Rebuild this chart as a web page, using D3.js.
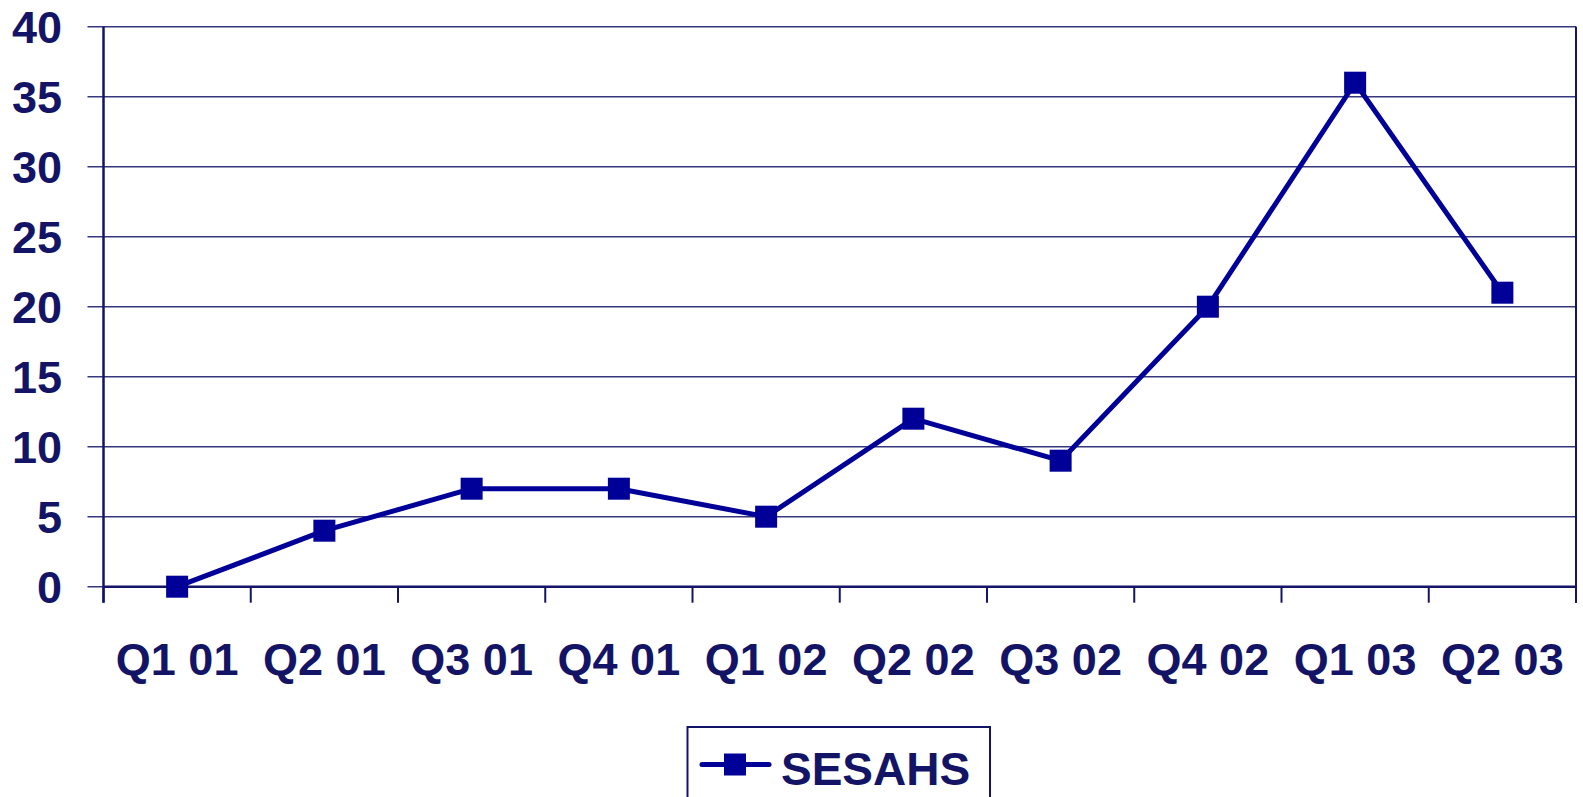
<!DOCTYPE html>
<html>
<head>
<meta charset="utf-8">
<script src="https://cdn.jsdelivr.net/npm/d3@7"></script>
<style>
  body { margin: 0; background: #fff; }
  svg { display: block; }
</style>
</head>
<body>
<div class="chart"></div>
<script>
var width = 1583;
var height = 797;

var quarters = ["Q1 01", "Q2 01", "Q3 01", "Q4 01", "Q1 02", "Q2 02", "Q3 02", "Q4 02", "Q1 03", "Q2 03"];
var sesahs = [0, 4, 7, 7, 5, 12, 9, 20, 36, 21];
var yTicks = [0, 5, 10, 15, 20, 25, 30, 35, 40];
var seriesName = "SESAHS";

var navy = "#141466";
var lineBlue = "#000099";
var font = "Liberation Sans, Arial, sans-serif";

var svg = d3.select("div.chart")
    .append("svg")
    .attr("width", width)
    .attr("height", height)

// plot area edges (note: "top" is a reserved window property)
var pLeft = 103.5, pRight = 1576, pTop = 26.7, pBottom = 586.7

var x = d3.scaleBand().domain(quarters).range([pLeft, pRight])
var y = d3.scaleLinear().domain([0, 40]).range([pBottom, pTop])

// gridlines (with the small outer tick to the left)
svg.append("g")
    .selectAll("line")
    .data(yTicks)
    .join("line")
    .attr("x1", pLeft - 16)
    .attr("x2", pRight)
    .attr("y1", function (d) { return y(d); })
    .attr("y2", function (d) { return y(d); })
    .attr("stroke", navy)
    .attr("stroke-opacity", 0.85)
    .attr("stroke-width", 1.5)

// y labels
svg.append("g")
    .selectAll("text")
    .data(yTicks)
    .join("text")
    .attr("x", 62)
    .attr("y", function (d) { return y(d); })
    .attr("dy", "0.36em")
    .attr("text-anchor", "end")
    .attr("font-family", font)
    .attr("font-weight", "bold")
    .attr("font-size", 45)
    .style("fill", navy)
    .text(function (d) { return d; })

// x ticks at band edges
var edges = quarters.map(function (q) { return x(q); }).concat([pRight])
svg.append("g")
    .selectAll("line")
    .data(edges)
    .join("line")
    .attr("x1", function (d) { return d; })
    .attr("x2", function (d) { return d; })
    .attr("y1", pBottom)
    .attr("y2", pBottom + 16)
    .attr("stroke", navy)
    .attr("stroke-width", 2)

// right border
svg.append("line")
    .attr("x1", pRight).attr("x2", pRight)
    .attr("y1", pTop).attr("y2", pBottom + 16)
    .attr("stroke", navy)
    .attr("stroke-width", 2)

// axes
svg.append("line")
    .attr("x1", pLeft).attr("x2", pLeft)
    .attr("y1", pTop).attr("y2", pBottom + 16)
    .attr("stroke", navy)
    .attr("stroke-width", 2.5)

svg.append("line")
    .attr("x1", pLeft).attr("x2", pRight)
    .attr("y1", pBottom).attr("y2", pBottom)
    .attr("stroke", navy)
    .attr("stroke-width", 2.5)

// x labels
svg.append("g")
    .selectAll("text")
    .data(quarters)
    .join("text")
    .attr("x", function (d) { return x(d) + x.bandwidth() / 2; })
    .attr("y", 675)
    .attr("text-anchor", "middle")
    .attr("font-family", font)
    .attr("font-weight", "bold")
    .attr("font-size", 45)
    .style("fill", navy)
    .text(function (d) { return d; })

// series
var line = d3.line()
    .x(function (d, i) { return x(quarters[i]) + x.bandwidth() / 2; })
    .y(function (d) { return y(d); })

svg.append("path")
    .datum(sesahs)
    .attr("d", line)
    .attr("fill", "none")
    .attr("stroke", lineBlue)
    .attr("stroke-width", 5)
    .attr("stroke-linejoin", "round")

var m = 22
svg.append("g")
    .selectAll("rect")
    .data(sesahs)
    .join("rect")
    .attr("x", function (d, i) { return x(quarters[i]) + x.bandwidth() / 2 - m / 2; })
    .attr("y", function (d) { return y(d) - m / 2; })
    .attr("width", m)
    .attr("height", m)
    .attr("fill", lineBlue)

// legend
var lg = svg.append("g")
lg.append("rect")
    .attr("x", 687.5)
    .attr("y", 727)
    .attr("width", 302.5)
    .attr("height", 90)
    .attr("fill", "none")
    .attr("stroke", navy)
    .attr("stroke-width", 2)

lg.append("line")
    .attr("x1", 702).attr("x2", 769)
    .attr("y1", 764.5).attr("y2", 764.5)
    .attr("stroke", lineBlue)
    .attr("stroke-width", 5)
    .attr("stroke-linecap", "round")

lg.append("rect")
    .attr("x", 735 - m / 2)
    .attr("y", 764.5 - m / 2)
    .attr("width", m)
    .attr("height", m)
    .attr("fill", lineBlue)

lg.append("text")
    .attr("x", 781)
    .attr("y", 785)
    .attr("font-family", font)
    .attr("font-weight", "bold")
    .attr("font-size", 46)
    .style("fill", navy)
    .text(seriesName)
</script>
</body>
</html>
